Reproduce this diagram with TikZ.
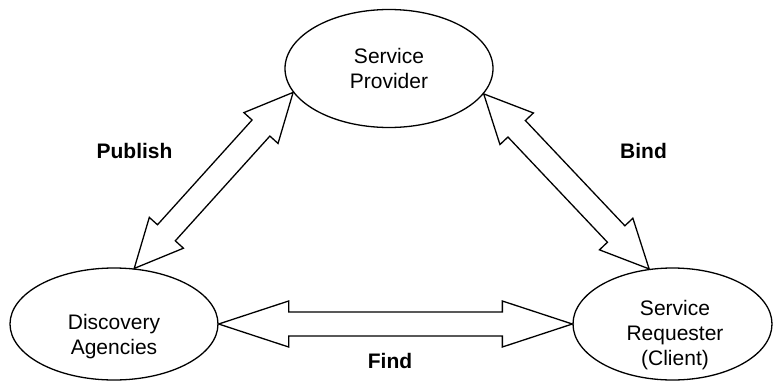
\documentclass[tikz,border=0pt]{standalone}
\usepackage{fontspec}
\setmainfont{Liberation Sans}
\usetikzlibrary{calc,positioning,shapes.geometric}

\newcommand{\fatarrow}[3][48pt]{%
    \coordinate (hA) at ($(#2)!#1!(#3)$);
    \coordinate (hB) at ($(#3)!#1!(#2)$);
    \draw[fatline] (#2) -- ($(hA)!23pt!90:(#3)$) -- ($(hA)!12pt!90:(#3)$)
        -- ($(hB)!12pt!-90:(#2)$) -- ($(hB)!23pt!-90:(#2)$) -- (#3)
        -- ($(hB)!23pt!90:(#2)$) -- ($(hB)!12pt!90:(#2)$)
        -- ($(hA)!12pt!-90:(#3)$) -- ($(hA)!23pt!-90:(#3)$) -- cycle;
}

\begin{document}
\begin{tikzpicture}[x=1pt,y=-1pt,
    site/.style={draw,ellipse,line width=1.3pt,inner sep=0pt},
    fatline/.style={line width=1.3pt,line join=miter,fill=white},
    sitetext/.style={align=center,font=\fontsize{21}{25}\selectfont},
    verb/.style={font=\bfseries\fontsize{21}{25}\selectfont}]

    \useasboundingbox (0,0) rectangle (773,383);

    \node[site,minimum width=208pt,minimum height=118pt] (prov) at (389,68.5) {};
    \node[site,minimum width=208pt,minimum height=112pt] (disc) at (114,324) {};
    \node[site,minimum width=199pt,minimum height=112pt] (req) at (672.5,324) {};

    \node[sitetext] (provtext) at (prov) {Service\\Provider};
    \node[sitetext] (disctext) at (114,337) {Discovery\\Agencies};
    \node[sitetext] (reqtext) at (675,335) {Service\\Requester\\(Client)};

    \fatarrow{disc.70}{prov.194}
    \fatarrow{prov.345}{req.113}
    \fatarrow[70pt]{disc.east}{req.west}

    \node[verb] (publish) at (134.5,150.5) {Publish};
    \node[verb] (bind) at (643.5,150.5) {Bind};
    \node[verb] (find) at (390,360.5) {Find};
\end{tikzpicture}
\end{document}
